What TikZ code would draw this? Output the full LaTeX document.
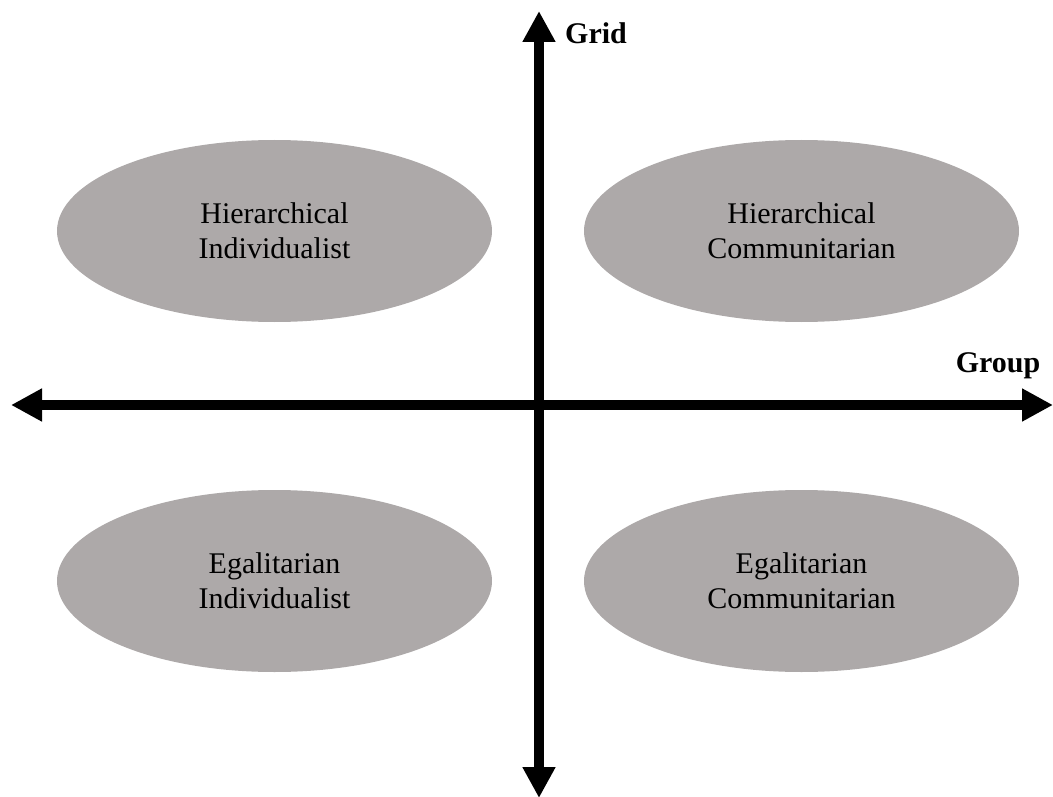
\documentclass[tikz,border=0pt]{standalone}
\usepackage{fontspec}
\setmainfont{Liberation Serif}
\usetikzlibrary{shapes.geometric,arrows.meta}
\definecolor{ellgray}{RGB}{173,169,169}
\tikzset{
  quad/.style={ellipse, fill=ellgray, draw=none, minimum width=435pt, minimum height=182pt, inner sep=0pt, align=center, font=\fontsize{30}{35}\selectfont},
  axis/.style={line width=10pt, -{Triangle[length=31pt,width=31pt]}},
  axlabel/.style={font=\fontsize{30}{36}\selectfont\bfseries, inner sep=0pt},
}
\begin{document}
\begin{tikzpicture}[x=1pt,y=-1pt]
\useasboundingbox (0,0) rectangle (1053,797);
\coordinate (top) at (539,11);
\coordinate (bottom) at (539,798);
\coordinate (left) at (11,405);
\coordinate (right) at (1053,405);
\coordinate (center) at (539,405);
\draw[axis] (center) -- (top);
\draw[axis] (center) -- (bottom);
\draw[axis] (center) -- (left);
\draw[axis] (center) -- (right);
\node[quad] (hi) at (274.5,231) {Hierarchical\\Individualist};
\node[quad] (hc) at (801.5,231) {Hierarchical\\Communitarian};
\node[quad] (ei) at (274.5,581) {Egalitarian\\Individualist};
\node[quad] (ec) at (801.5,581) {Egalitarian\\Communitarian};
\node[axlabel, anchor=west] (grid) at (565,33) {Grid};
\node[axlabel] (group) at (998,366) {Group};
\end{tikzpicture}
\end{document}
